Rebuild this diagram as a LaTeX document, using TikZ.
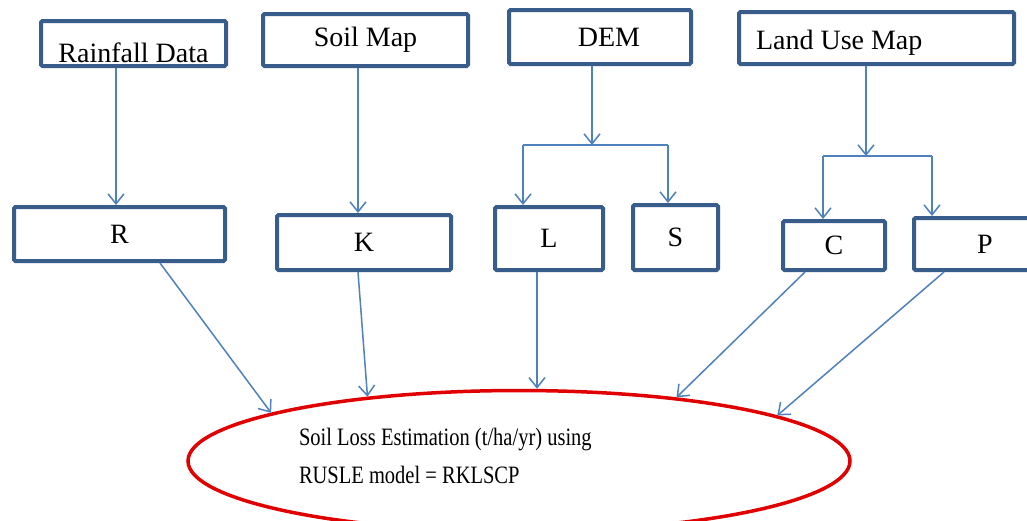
\documentclass[tikz,border=0pt]{standalone}
\usepackage{fontspec}
\setmainfont{Liberation Serif}
\newfontfamily\ovalfont[FakeStretch=0.82]{Liberation Serif}
\definecolor{boxNavy}{HTML}{385D8A}
\definecolor{flowBlue}{HTML}{4F81BD}
\definecolor{ovalRed}{HTML}{E00000}
\usetikzlibrary{arrows.meta,shapes.geometric}

\begin{document}
\begin{tikzpicture}[
                x=1pt, y=-1pt,
                databox/.style={draw=boxNavy, line width=4pt, fill=white, rounded corners=1.5pt,
                                font=\fontsize{28}{30}\selectfont, inner sep=0pt},
                factorbox/.style={databox},
                flow/.style={-{Straight Barb[length=10pt,width=16pt]}, line width=1.5pt, draw=flowBlue},
                link/.style={line width=1.5pt, draw=flowBlue},
                usleoval/.style={ellipse, draw=ovalRed, line width=3.5pt, fill=white,
                                 minimum width=662pt, minimum height=141pt,
                                 font=\ovalfont\fontsize{25}{38}\selectfont, text width=440pt, align=left}
            ]
                \useasboundingbox (0,0) rectangle (1027,520);
                \clip (0,0) rectangle (1027,520);
                \fill[white] (0,0) rectangle (1027,520);

                % input data layers
                \node[databox, minimum width=185pt, minimum height=45pt,
                      text height=37pt, text depth=0pt] (rain) at (133.5,43.5) {Rainfall Data};
                \node[databox, minimum width=205pt, minimum height=52pt] (soil) at (365.5,40) {Soil Map};
                \node[databox, minimum width=182pt, minimum height=54pt] (dem) at (600,37) {\hspace*{18pt}DEM};
                \node[databox, minimum width=275pt, minimum height=52pt,
                      text width=241pt, inner xsep=17pt, align=left,
                      text height=22pt, text depth=0pt] (land) at (876.5,38) {\spaceskip=0pt Land Use Map};

                % RUSLE factors
                \node[factorbox, minimum width=211pt, minimum height=54pt] (R) at (119.5,234) {R};
                \node[factorbox, minimum width=174pt, minimum height=55pt] (K) at (364,242.5) {K};
                \node[factorbox, minimum width=108pt, minimum height=63pt] (L) at (549,238.5) {L};
                \node[factorbox, minimum width=85pt, minimum height=65pt] (S) at (675.5,237.5) {S};
                \node[factorbox, minimum width=102pt, minimum height=49pt] (C) at (834,245.5) {C};
                \node[factorbox, minimum width=142pt, minimum height=52pt] (P) at (985,244) {P};

                \node[usleoval] (usle) at (519,461) {\spaceskip=0pt Soil Loss Estimation (t/ha/yr) using\\
                                                     RUSLE model = RKLSCP\rule[-10pt]{0pt}{10pt}};

                \draw[flow] ([xshift=-17.5pt]rain.south) -- ([xshift=-17.5pt]rain.south |- R.north);
                \draw[flow] ([xshift=-7.5pt]soil.south) -- ([xshift=-7.5pt]soil.south |- K.north);

                % DEM splits into L and S
                \coordinate (demL) at (523,145);
                \coordinate (demS) at (668,145);
                \draw[flow] ([xshift=-8pt]dem.south) -- ([xshift=-8pt]dem.south |- demL);
                \draw[link] (demL) -- (demS);
                \draw[flow] (demL) -- (demL |- L.north);
                \draw[flow] (demS) -- (demS |- S.north);

                % land use splits into C and P
                \coordinate (landC) at (823,156);
                \coordinate (landP) at (932,156);
                \draw[flow] ([xshift=-10.5pt]land.south) -- ([xshift=-10.5pt]land.south |- landC);
                \draw[link] (landC) -- (landP);
                \draw[flow] (landC) -- (landC |- C.north);
                \draw[flow] (landP) -- (landP |- P.north);

                \draw[flow] ([xshift=40.5pt]R.south) -- (usle.169);
                \draw[flow] ([xshift=-6pt]K.south) -- (usle.157.5);
                \draw[flow] ([xshift=-12pt]L.south) -- ([xshift=-12pt]L.south |- usle.north);
                \draw[flow] ([xshift=-29pt]C.south) -- (usle.22);
                \draw[flow] ([xshift=-41pt]P.south) -- (usle.10);

            \end{tikzpicture}
\end{document}
